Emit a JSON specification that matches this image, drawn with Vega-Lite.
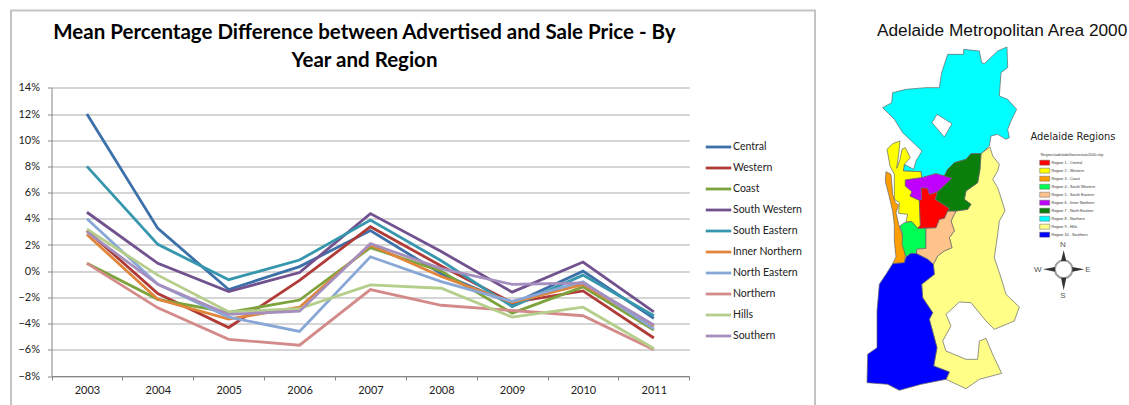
{"$schema":"https://vega.github.io/schema/vega-lite/v6.json","autosize":{"type":"pad"},"padding":{"left":10,"top":9.5,"right":0,"bottom":0},"background":"white","spacing":1,"bounds":"flush","resolve":{"scale":{"color":"independent"},"legend":{"color":"independent"}},"config":{"view":{"stroke":null}},
"hconcat":[
{"width":804,"height":395.5,"view":{"stroke":"#c4c4c4","strokeWidth":2},
"title":{"text":["Mean Percentage Difference between  Advertised and Sale Price - By","Year and Region"],"font":"Lato","fontSize":20.5,"fontWeight":"bold","color":"#000000","anchor":"start","frame":"group","align":"center","dx":353.5,"offset":-81,"lineHeight":28,"baseline":"bottom"},
"data":{"values":[
{"y":"2003","r":"Central","v":0.12},{"y":"2004","r":"Central","v":0.0327},{"y":"2005","r":"Central","v":-0.014},{"y":"2006","r":"Central","v":0.0035},{"y":"2007","r":"Central","v":0.031},{"y":"2008","r":"Central","v":-0.002},{"y":"2009","r":"Central","v":-0.025},{"y":"2010","r":"Central","v":0.0},{"y":"2011","r":"Central","v":-0.036},
{"y":"2003","r":"Western","v":0.031},{"y":"2004","r":"Western","v":-0.017},{"y":"2005","r":"Western","v":-0.043},{"y":"2006","r":"Western","v":-0.007},{"y":"2007","r":"Western","v":0.034},{"y":"2008","r":"Western","v":0.004},{"y":"2009","r":"Western","v":-0.024},{"y":"2010","r":"Western","v":-0.015},{"y":"2011","r":"Western","v":-0.051},
{"y":"2003","r":"Coast","v":0.006},{"y":"2004","r":"Coast","v":-0.0215},{"y":"2005","r":"Coast","v":-0.0315},{"y":"2006","r":"Coast","v":-0.022},{"y":"2007","r":"Coast","v":0.018},{"y":"2008","r":"Coast","v":0.0},{"y":"2009","r":"Coast","v":-0.032},{"y":"2010","r":"Coast","v":-0.012},{"y":"2011","r":"Coast","v":-0.045},
{"y":"2003","r":"South Western","v":0.045},{"y":"2004","r":"South Western","v":0.006},{"y":"2005","r":"South Western","v":-0.0155},{"y":"2006","r":"South Western","v":-0.001},{"y":"2007","r":"South Western","v":0.044},{"y":"2008","r":"South Western","v":0.015},{"y":"2009","r":"South Western","v":-0.016},{"y":"2010","r":"South Western","v":0.007},{"y":"2011","r":"South Western","v":-0.031},
{"y":"2003","r":"South Eastern","v":0.08},{"y":"2004","r":"South Eastern","v":0.0205},{"y":"2005","r":"South Eastern","v":-0.0065},{"y":"2006","r":"South Eastern","v":0.0085},{"y":"2007","r":"South Eastern","v":0.039},{"y":"2008","r":"South Eastern","v":0.008},{"y":"2009","r":"South Eastern","v":-0.027},{"y":"2010","r":"South Eastern","v":-0.003},{"y":"2011","r":"South Eastern","v":-0.034},
{"y":"2003","r":"Inner Northern","v":0.028},{"y":"2004","r":"Inner Northern","v":-0.0215},{"y":"2005","r":"Inner Northern","v":-0.0365},{"y":"2006","r":"Inner Northern","v":-0.0275},{"y":"2007","r":"Inner Northern","v":0.02},{"y":"2008","r":"Inner Northern","v":-0.004},{"y":"2009","r":"Inner Northern","v":-0.024},{"y":"2010","r":"Inner Northern","v":-0.01},{"y":"2011","r":"Inner Northern","v":-0.042},
{"y":"2003","r":"North Eastern","v":0.04},{"y":"2004","r":"North Eastern","v":-0.01},{"y":"2005","r":"North Eastern","v":-0.035},{"y":"2006","r":"North Eastern","v":-0.046},{"y":"2007","r":"North Eastern","v":0.011},{"y":"2008","r":"North Eastern","v":-0.008},{"y":"2009","r":"North Eastern","v":-0.023},{"y":"2010","r":"North Eastern","v":-0.008},{"y":"2011","r":"North Eastern","v":-0.044},
{"y":"2003","r":"Northern","v":0.006},{"y":"2004","r":"Northern","v":-0.028},{"y":"2005","r":"Northern","v":-0.052},{"y":"2006","r":"Northern","v":-0.0565},{"y":"2007","r":"Northern","v":-0.014},{"y":"2008","r":"Northern","v":-0.026},{"y":"2009","r":"Northern","v":-0.03},{"y":"2010","r":"Northern","v":-0.034},{"y":"2011","r":"Northern","v":-0.06},
{"y":"2003","r":"Hills","v":0.032},{"y":"2004","r":"Hills","v":-0.003},{"y":"2005","r":"Hills","v":-0.031},{"y":"2006","r":"Hills","v":-0.0285},{"y":"2007","r":"Hills","v":-0.0105},{"y":"2008","r":"Hills","v":-0.013},{"y":"2009","r":"Hills","v":-0.035},{"y":"2010","r":"Hills","v":-0.0275},{"y":"2011","r":"Hills","v":-0.059},
{"y":"2003","r":"Southern","v":0.03},{"y":"2004","r":"Southern","v":-0.01},{"y":"2005","r":"Southern","v":-0.033},{"y":"2006","r":"Southern","v":-0.0305},{"y":"2007","r":"Southern","v":0.021},{"y":"2008","r":"Southern","v":0.002},{"y":"2009","r":"Southern","v":-0.01},{"y":"2010","r":"Southern","v":-0.009},{"y":"2011","r":"Southern","v":-0.041}
]},
"mark":{"type":"line","strokeWidth":2.8,"interpolate":"linear"},
"encoding":{
"x":{"field":"y","type":"ordinal","title":null,"scale":{"type":"band","paddingInner":0,"paddingOuter":0,"range":[40.5,678.3]},
"axis":{"orient":"bottom","offset":-30,"labelAngle":0,"tickBand":"extent","grid":false,"domainColor":"#868686","tickColor":"#868686","tickSize":4,"labelFont":"Lato","labelFontSize":11,"labelColor":"#222222","labelPadding":4}},
"y":{"field":"v","type":"quantitative","title":null,"scale":{"domain":[-0.08,0.14],"nice":false,"range":[365.5,77.3]},
"axis":{"orient":"left","offset":-40.5,"values":[-0.08,-0.06,-0.04,-0.02,0,0.02,0.04,0.06,0.08,0.1,0.12,0.14],"format":".0%","grid":true,"gridColor":"#ababab","gridWidth":1,"domainColor":"#868686","tickColor":"#868686","tickSize":4,"labelFont":"Lato","labelFontSize":11,"labelColor":"#222222","labelPadding":8}},
"color":{"field":"r","type":"nominal","scale":{"domain":["Central","Western","Coast","South Western","South Eastern","Inner Northern","North Eastern","Northern","Hills","Southern"],"range":["#3c70a8","#b03a36","#7da33c","#71528f","#3596ad","#e0853a","#89a7d6","#d38b8a","#b5ce8b","#a48fbe"]},
"legend":{"title":null,"orient":"none","legendX":693,"legendY":122,"symbolType":"stroke","symbolSize":650,"symbolStrokeWidth":2.8,"labelFont":"Lato","labelFontSize":10.5,"labelColor":"#222222","rowPadding":-2.8,"labelOffset":0}}
}},
{"width":314,"height":395.5,
"title":{"text":"Adelaide Metropolitan Area 2000","font":"Liberation Sans","fontSize":17.25,"fontWeight":"normal","color":"#111111","anchor":"start","frame":"group","dx":61,"offset":-46.5,"baseline":"bottom"},
"projection":{"type":"identity","scale":0.33333,"translate":[35,-9.5]},
"layer":[
{"data":{"values":[
{"type":"Feature","properties":{"region":"Region 9 - Hills"},"geometry":{"type":"Polygon","coordinates":[[[417,438],[425,465],[445,490],[440,510],[425,535],[440,560],[450,590],[462,630],[445,660],[440,700],[430,770],[450,830],[465,880],[505,918],[490,960],[430,985],[405,960],[360,905],[325,903],[285,940],[300,975],[275,1020],[285,1050],[345,1075],[380,1075],[385,1020],[405,1012],[425,1060],[452,1117],[385,1135],[345,1163],[285,1135],[295,1113],[248,1095],[258,1040],[235,955],[245,935],[215,890],[212,850],[250,820],[247,790],[260,765],[280,750],[303,740],[295,710],[310,690],[300,660],[315,630],[350,625],[360,610],[340,595],[345,570],[380,545],[387,505],[390,458],[417,438]]]}},
{"type":"Feature","properties":{"region":"Region 8 - Northern"},"geometry":{"type":"Polygon","coordinates":[[[95,320],[122,305],[125,275],[165,265],[225,260],[265,260],[272,215],[290,160],[338,160],[338,145],[385,150],[392,185],[400,188],[440,150],[468,138],[470,200],[450,215],[445,285],[470,295],[497,325],[480,360],[470,385],[475,410],[465,415],[440,400],[420,405],[415,435],[390,458],[360,458],[345,475],[310,485],[290,505],[280,525],[255,518],[212,530],[210,512],[157,510],[160,490],[188,505],[195,480],[213,450],[155,395],[130,355],[95,320]],[[258,340],[243,365],[280,408],[303,368],[258,340]]]}},
{"type":"Feature","properties":{"region":"Region 2 - Western"},"geometry":{"type":"Polygon","coordinates":[[[108,445],[125,428],[147,420],[143,460],[137,502],[147,475],[153,445],[163,440],[178,470],[160,490],[157,510],[210,512],[212,530],[163,537],[163,555],[183,572],[177,585],[205,598],[208,673],[200,682],[183,662],[165,662],[170,640],[143,637],[145,605],[130,595],[130,520],[117,495],[108,445]]]}},
{"type":"Feature","properties":{"region":"Region 3 - Coast"},"geometry":{"type":"Polygon","coordinates":[[[105,512],[120,520],[125,580],[133,605],[143,612],[135,635],[143,670],[153,700],[163,765],[160,785],[125,788],[135,768],[130,720],[130,670],[125,630],[113,580],[103,540],[105,512]]]}},
{"type":"Feature","properties":{"region":"Region 4 - South Western"},"geometry":{"type":"Polygon","coordinates":[[[147,675],[160,665],[183,662],[200,682],[225,682],[225,742],[197,745],[197,758],[180,757],[165,768],[153,730],[155,700],[147,675]]]}},
{"type":"Feature","properties":{"region":"Region 5 - South Eastern"},"geometry":{"type":"Polygon","coordinates":[[[225,682],[255,680],[265,655],[280,652],[290,630],[315,630],[300,660],[310,690],[295,710],[303,740],[280,750],[260,765],[247,790],[230,775],[197,758],[197,745],[225,742],[225,682]]]}},
{"type":"Feature","properties":{"region":"Region 1 - Central"},"geometry":{"type":"Polygon","coordinates":[[[210,560],[230,562],[235,580],[260,572],[253,595],[295,622],[290,630],[280,652],[265,655],[255,680],[200,682],[208,673],[205,598],[212,595],[210,560]]]}},
{"type":"Feature","properties":{"region":"Region 6 - Inner Northern"},"geometry":{"type":"Polygon","coordinates":[[[163,537],[212,530],[255,518],[280,525],[303,532],[260,572],[235,580],[230,562],[210,560],[212,595],[205,598],[177,585],[183,572],[163,555],[163,537]]]}},
{"type":"Feature","properties":{"region":"Region 7 - North Eastern"},"geometry":{"type":"Polygon","coordinates":[[[280,525],[290,505],[310,485],[345,475],[360,458],[390,458],[387,505],[380,545],[345,570],[340,595],[360,610],[350,625],[315,630],[290,630],[295,622],[253,595],[260,572],[303,532],[280,525]]]}},
{"type":"Feature","properties":{"region":"Region 10 - Southern"},"geometry":{"type":"Polygon","coordinates":[[[125,788],[160,785],[165,768],[180,757],[197,758],[230,775],[247,790],[250,820],[212,850],[215,890],[245,935],[235,955],[258,1040],[248,1095],[295,1113],[285,1135],[210,1150],[145,1168],[110,1150],[48,1145],[50,1060],[78,1040],[78,930],[85,850],[105,820],[125,788]]]}}
]},
"mark":{"type":"geoshape","stroke":"#666666","strokeWidth":0.7},
"encoding":{"color":{"field":"properties.region","type":"nominal","scale":{"domain":["Region 1 - Central","Region 2 - Western","Region 3 - Coast","Region 4 - South Western","Region 5 - South Eastern","Region 6 - Inner Northern","Region 7 - North Eastern","Region 8 - Northern","Region 9 - Hills","Region 10 - Southern"],"range":["#ff0000","#ffff00","#ff9e00","#00ff55","#ffc48c","#c000ff","#0a800a","#00ffff","#ffff88","#0000ff"]},
"legend":{"title":"Regions\\adelaide\\housestats2000.shp","orient":"none","legendX":224.7,"legendY":142.5,"titleFont":"Liberation Sans","titleFontSize":3.7,"titleFontWeight":"normal","titleColor":"#333333","titlePadding":2,"symbolType":"M-1.5,-0.75H1.5V0.75H-1.5Z","symbolSize":44,"symbolStrokeColor":"#666666","symbolStrokeWidth":0.5,"labelFont":"Liberation Sans","labelFontSize":3.8,"labelColor":"#333333","labelOffset":2.7,"rowPadding":-0.8}}}},
{"data":{"values":[{"type":"Feature","properties":{"part":"ring"},"geometry":{"type":"Polygon","coordinates":[[[665,805],[661,819],[651,829],[638,832],[625,829],[615,819],[611,805],[615,791],[625,781],[638,778],[651,781],[661,791],[665,805]]]}}]},
"mark":{"type":"geoshape","fill":"#ffffff","stroke":"#9a9a9a","strokeWidth":2}},
{"data":{"values":[
{"type":"Feature","properties":{"part":"N"},"geometry":{"type":"Polygon","coordinates":[[[638,748],[630,780],[646,780],[638,748]]]}},
{"type":"Feature","properties":{"part":"S"},"geometry":{"type":"Polygon","coordinates":[[[638,868],[630,830],[646,830],[638,868]]]}},
{"type":"Feature","properties":{"part":"E"},"geometry":{"type":"Polygon","coordinates":[[[700,805],[664,798],[664,812],[700,805]]]}},
{"type":"Feature","properties":{"part":"W"},"geometry":{"type":"Polygon","coordinates":[[[576,805],[612,798],[612,812],[576,805]]]}}
]},"mark":{"type":"geoshape","fill":"#333333","stroke":null}},
{"data":{"values":[{"t":"N","lon":636,"lat":731},{"t":"E","lon":711,"lat":807},{"t":"S","lon":636,"lat":884},{"t":"W","lon":560,"lat":807}]},
"mark":{"type":"text","font":"Liberation Sans","fontSize":8,"color":"#555555"},
"encoding":{"longitude":{"field":"lon","type":"quantitative"},"latitude":{"field":"lat","type":"quantitative"},"text":{"field":"t"}}},
{"data":{"values":[{"t":"Adelaide Regions","lon":666,"lat":407}]},
"mark":{"type":"text","font":"DejaVu Sans Condensed, sans-serif","fontSize":11,"color":"#222222"},
"encoding":{"longitude":{"field":"lon","type":"quantitative"},"latitude":{"field":"lat","type":"quantitative"},"text":{"field":"t"}}}
]}
]}
